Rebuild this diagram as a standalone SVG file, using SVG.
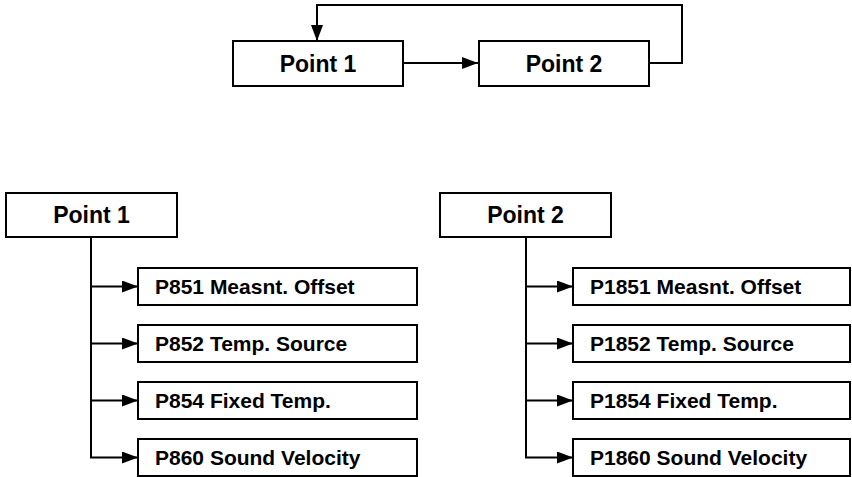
<svg xmlns="http://www.w3.org/2000/svg" width="852" height="477" viewBox="0 0 852 477">
<defs>
<style>
.box{fill:#fff;stroke:#000;stroke-width:2}
.ln{fill:none;stroke:#000;stroke-width:2}
.t1{font-family:"Liberation Sans",Arial,sans-serif;font-weight:bold;font-size:23px;fill:#000;text-anchor:middle}
.t2{font-family:"Liberation Sans",Arial,sans-serif;font-weight:bold;font-size:21px;fill:#000}
</style>
<marker id="ah" markerWidth="16" markerHeight="12" refX="16" refY="6" orient="auto" markerUnits="userSpaceOnUse">
<path d="M0,0 L16,6 L0,12 Z" fill="#000"/>
</marker>
</defs>
<g id="connectors">
<path class="ln" d="M403,63 H478" marker-end="url(#ah)"/>
<path class="ln" d="M649,63 H682 V5 H317 V41" marker-end="url(#ah)"/>
<path class="ln" d="M91,237 V457.5 H138" marker-end="url(#ah)"/>
<path class="ln" d="M91,286.5 H138" marker-end="url(#ah)"/>
<path class="ln" d="M91,343.5 H138" marker-end="url(#ah)"/>
<path class="ln" d="M91,400.5 H138" marker-end="url(#ah)"/>
<path class="ln" d="M526,237 V457.5 H573" marker-end="url(#ah)"/>
<path class="ln" d="M526,286.5 H573" marker-end="url(#ah)"/>
<path class="ln" d="M526,343.5 H573" marker-end="url(#ah)"/>
<path class="ln" d="M526,400.5 H573" marker-end="url(#ah)"/>
</g>
<g id="top-point1"><rect class="box" x="233" y="41" width="170" height="45"/><text class="t1" x="318" y="72">Point 1</text></g>
<g id="top-point2"><rect class="box" x="479" y="41" width="170" height="45"/><text class="t1" x="564" y="72">Point 2</text></g>
<g id="point1"><rect class="box" x="6" y="193" width="171" height="44"/><text class="t1" x="91.5" y="223">Point 1</text></g>
<g id="p851"><rect class="box" x="138" y="268" width="279" height="37"/><text class="t2" x="155" y="294">P851 Measnt. Offset</text></g>
<g id="p852"><rect class="box" x="138" y="325" width="279" height="37"/><text class="t2" x="155" y="351">P852 Temp. Source</text></g>
<g id="p854"><rect class="box" x="138" y="382" width="279" height="37"/><text class="t2" x="155" y="408">P854 Fixed Temp.</text></g>
<g id="p860"><rect class="box" x="138" y="439" width="279" height="37"/><text class="t2" x="155" y="465">P860 Sound Velocity</text></g>
<g id="point2"><rect class="box" x="440" y="193" width="171" height="44"/><text class="t1" x="525.5" y="223">Point 2</text></g>
<g id="p1851"><rect class="box" x="573" y="268" width="277" height="37"/><text class="t2" x="590" y="294">P1851 Measnt. Offset</text></g>
<g id="p1852"><rect class="box" x="573" y="325" width="277" height="37"/><text class="t2" x="590" y="351">P1852 Temp. Source</text></g>
<g id="p1854"><rect class="box" x="573" y="382" width="277" height="37"/><text class="t2" x="590" y="408">P1854 Fixed Temp.</text></g>
<g id="p1860"><rect class="box" x="573" y="439" width="277" height="37"/><text class="t2" x="590" y="465">P1860 Sound Velocity</text></g>
</svg>
